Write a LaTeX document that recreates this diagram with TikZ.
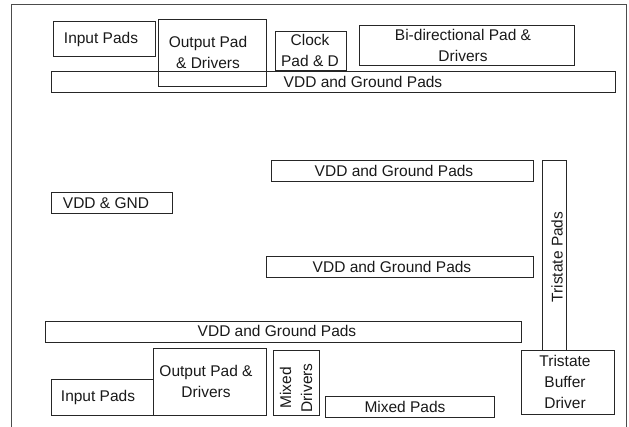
\documentclass[tikz,border=0pt]{standalone}
\usepackage{fontspec}
\setmainfont{Liberation Sans}
\begin{document}
\begin{tikzpicture}[x=1pt,y=-1pt,
  box/.style={draw=black!85,line width=0.8pt,rectangle,inner sep=0pt},
  txt/.style={inner sep=0pt,align=center,font=\fontsize{15.5}{21}\selectfont,text=black!90}]
\useasboundingbox (0,0) rectangle (629,427);
% outer frame (open at bottom)
\coordinate (fbl) at (11,427);
\coordinate (ftl) at (11,4);
\coordinate (ftr) at (626,4);
\coordinate (fbr) at (626,427);
\draw[draw=black!70,line width=0.8pt] (fbl) -- (ftl) -- (ftr) -- (fbr);
% boxes
\node[box,minimum width=102,minimum height=35] (ip1) at (104,38.5) {};
\node[box,minimum width=108,minimum height=67] (op1) at (212,52.5) {};
\node[box,minimum width=71,minimum height=39] (clk) at (310.5,50.5) {};
\node[box,minimum width=215,minimum height=40] (bi) at (466.5,45) {};
\node[box,minimum width=564,minimum height=21] (vdd1) at (333,81.5) {};
\node[box,minimum width=262,minimum height=21] (vdd2) at (402,170.5) {};
\node[box,minimum width=121,minimum height=21] (gnd) at (111.5,202.5) {};
\node[box,minimum width=24,minimum height=190] (tri) at (554,255) {};
\node[box,minimum width=267,minimum height=21] (vdd3) at (399.5,266.5) {};
\node[box,minimum width=476,minimum height=21] (vdd4) at (283,331.5) {};
\node[box,minimum width=93,minimum height=64] (tbd) at (567.5,382) {};
\node[box,minimum width=169,minimum height=21] (mp) at (409.5,406.5) {};
\node[box,minimum width=46,minimum height=65] (md) at (296,382.5) {};
\node[box,minimum width=113,minimum height=67] (op2) at (209.5,381.5) {};
\node[box,minimum width=102,minimum height=36] (ip2) at (102,397) {};
% texts
\node[txt] (tip1) at (101,39) {Input Pads};
\node[txt] (top1) at (208,52.5) {Output Pad\\\& Drivers};
\node[txt] (tclk) at (310,50) {Clock\\Pad \& D};
\node[txt] (tbi) at (463,45) {Bi-directional Pad \&\\Drivers};
\node[txt] (tvdd1) at (363,82) {VDD and Ground Pads};
\node[txt] (tvdd2) at (394,171) {VDD and Ground Pads};
\node[txt] (tgnd) at (106,203) {VDD \& GND};
\node[txt,rotate=90] (ttri) at (557,257) {Tristate Pads};
\node[txt] (tvdd3) at (392,267) {VDD and Ground Pads};
\node[txt] (tvdd4) at (277,331) {VDD and Ground Pads};
\node[txt] (ttbd) at (565,382) {Tristate\\Buffer\\Driver};
\node[txt] (tmp) at (405,407) {Mixed Pads};
\node[txt,rotate=90] (tmd) at (296,388) {Mixed\\Drivers};
\node[txt] (top2) at (206,381) {Output Pad \&\\Drivers};
\node[txt] (tip2) at (98,397) {Input Pads};
\end{tikzpicture}
\end{document}
